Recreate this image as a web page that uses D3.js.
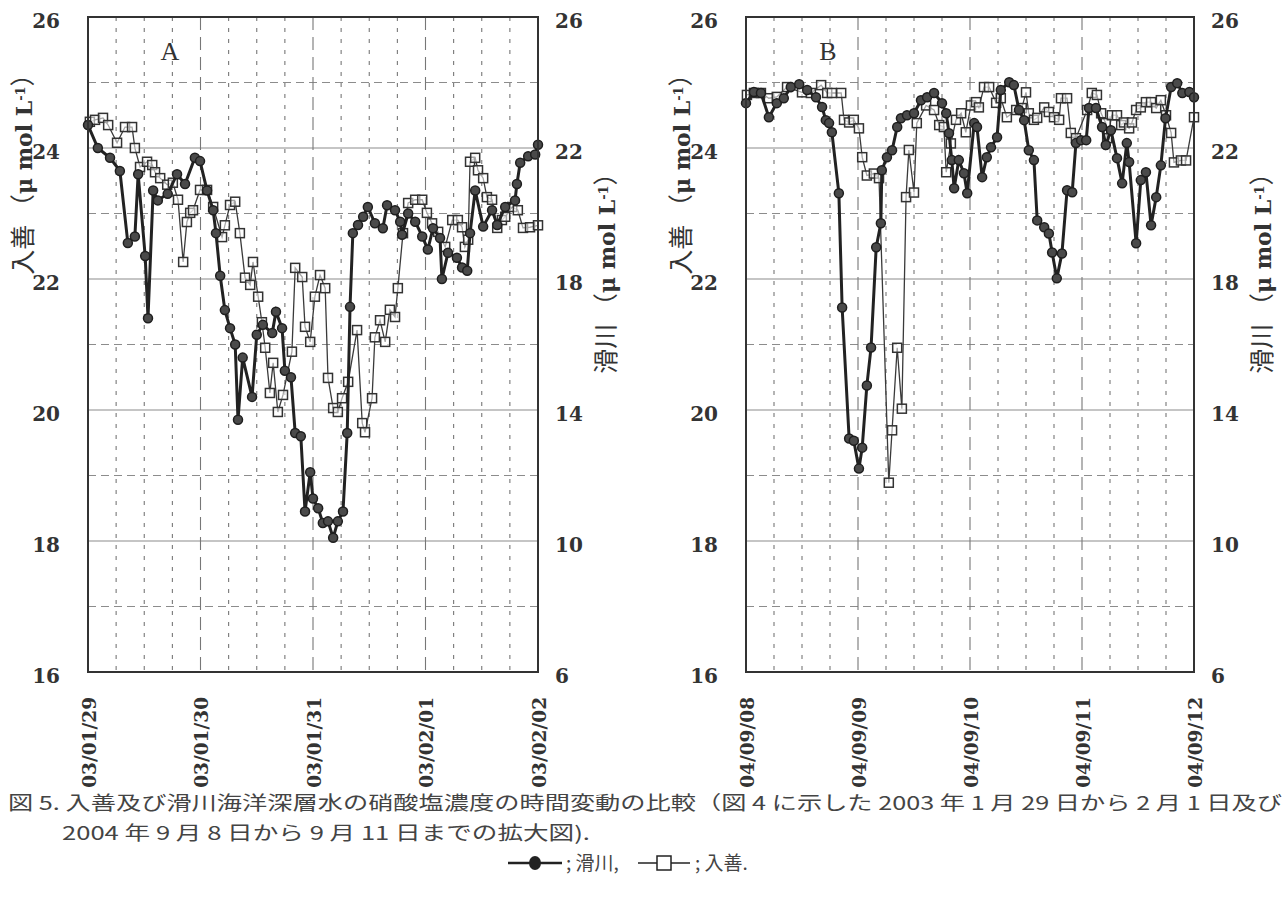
<!DOCTYPE html>
<html>
<head>
<meta charset="utf-8">
<script src="https://cdn.jsdelivr.net/npm/d3@7"></script>
<style>
  body { margin: 0; background: #fff; }
</style>
</head>
<body>
<svg id="chart" width="1285" height="899"></svg>
<script>

// [hours from first tick, nitrate umol/L]
// 入善 (open squares, left axis), 滑川 (filled circles, right axis)
const nyuzenA = [[0.4,24.40],[1.5,24.43],[3.2,24.46],[4.3,24.35],[6.2,24.08],[7.9,24.32],[9.4,24.32],[10,24.0],[11.1,23.71],[12.6,23.79],[13.7,23.74],[14.3,23.63],[15.4,23.54],[16.9,23.44],[18.1,23.47],[19.2,23.21],[20.3,22.26],[21.1,22.87],[21.8,23.01],[22.4,23.05],[23.9,23.36],[25.4,23.36],[26.7,23.10],[28.6,22.64],[29.2,22.82],[30.3,23.13],[31.4,23.18],[32.4,22.70],[33.5,22.02],[34.6,21.91],[35.2,22.26],[36.3,21.73],[37.1,21.34],[37.8,20.95],[38.8,20.26],[39.5,20.72],[40.5,19.97],[41.6,20.23],[43.5,20.89],[44.2,22.17],[45.7,22.03],[46.3,21.27],[47.4,21.04],[48.4,21.73],[49.5,22.06],[50.6,21.86],[51.2,20.49],[52.3,20.03],[53.3,19.97],[54.2,20.18],[55.5,20.43],[57.4,21.22],[58.5,19.80],[59.1,19.66],[60.6,20.18],[61.2,21.11],[62.3,21.37],[63.4,21.04],[64.4,21.53],[65.5,21.42],[66.1,21.86],[67.2,22.70],[68.3,23.16],[69.8,23.21],[71.3,23.21],[72.3,23.01],[73.4,22.85],[74.7,22.72],[76.2,22.49],[77.7,22.90],[78.9,22.90],[79.8,22.79],[80.4,22.49],[81.1,22.60],[81.5,23.79],[82.6,23.85],[83.2,23.66],[84.3,23.54],[85.1,23.25],[86.2,23.21],[87.3,22.78],[88.3,22.90],[89,22.95],[90.5,23.10],[91.7,23.05],[92.8,22.78],[94.3,22.79],[96,22.82]]

const namerikawaA = [[0,22.7],[2.1,22.0],[4.7,21.7],[6.8,21.3],[8.5,19.1],[10,19.3],[10.7,21.2],[12.2,18.7],[12.8,16.8],[13.9,20.7],[14.9,20.4],[17,20.6],[19,21.2],[20.7,20.9],[22.8,21.7],[23.9,21.6],[25.4,20.7],[26.7,20.1],[27.3,19.4],[28.2,18.1],[29.2,17.05],[30.3,16.5],[31.4,16.0],[32,13.7],[33,15.6],[35,14.4],[36,16.3],[37.3,16.6],[39.3,16.35],[40.1,17.0],[41.4,16.5],[42,15.2],[43.3,15.0],[44.2,13.3],[45.4,13.2],[46.3,10.9],[47.4,12.1],[48,11.3],[49.1,11.0],[50.1,10.55],[51.2,10.6],[52.3,10.1],[53.3,10.6],[54.4,10.9],[55.3,13.3],[55.9,17.15],[56.5,19.4],[57.6,19.65],[58.7,19.9],[59.7,20.2],[61.2,19.7],[62.9,19.55],[63.8,20.25],[65.5,20.1],[66.6,19.75],[67,19.35],[68.3,20.0],[69.8,19.75],[71.3,19.3],[72.5,18.9],[73.6,19.55],[75.1,19.25],[75.5,18.0],[76.8,18.8],[78.7,18.65],[79.8,18.35],[80.9,18.25],[81.5,19.4],[82.6,20.7],[84.3,19.6],[86.2,20.1],[87.3,19.65],[89,20.2],[91.1,20.4],[91.5,20.9],[92.2,21.55],[93.9,21.75],[95.4,21.8],[96,22.1]]

const nyuzenB = [[0.2,24.81],[1.7,24.84],[3.2,24.84],[4.9,24.76],[6.6,24.78],[8.8,24.93],[12,24.85],[13.9,24.84],[16.1,24.96],[17.4,24.84],[18.4,24.84],[20.4,24.84],[21,24.43],[22.1,24.39],[23.1,24.43],[24.2,24.30],[24.9,23.86],[25.9,23.58],[27.4,23.61],[28.5,23.54],[30.6,18.89],[31.3,19.69],[32.4,20.95],[33.4,20.02],[34.3,23.25],[34.9,23.97],[36,23.32],[36.6,24.38],[38.6,24.65],[40.3,24.58],[41.4,24.35],[42.4,24.32],[42.9,23.63],[43.9,24.07],[45,24.43],[46.1,24.53],[47.1,24.24],[48.2,24.65],[49.3,24.70],[49.9,24.62],[51,24.93],[52.1,24.93],[53.6,24.69],[54.6,24.76],[55.9,24.47],[57.9,24.58],[59.1,24.61],[60,24.85],[60.6,24.53],[61.7,24.43],[62.4,24.46],[63.9,24.62],[64.9,24.55],[66,24.47],[67.1,24.43],[67.5,24.76],[68.8,24.76],[69.6,24.23],[70.7,24.15],[73.1,24.58],[74.1,24.84],[75.2,24.81],[76.1,24.53],[77.1,24.38],[77.4,24.15],[78.4,24.50],[79.5,24.50],[80.4,24.35],[81,24.39],[82.1,24.30],[82.7,24.39],[83.6,24.58],[84.6,24.62],[85.7,24.70],[86.8,24.70],[87.9,24.61],[88.9,24.73],[90,24.50],[91.1,24.23],[91.7,23.78],[93.2,23.81],[94.3,23.81],[96,24.47]]

const namerikawaB = [[0,23.37],[1.7,23.71],[3.2,23.68],[4.9,22.94],[6.6,23.37],[8.1,23.52],[9.6,23.86],[11.4,23.95],[13.1,23.77],[15,23.55],[16.3,23.25],[17.1,22.85],[17.8,22.76],[18.4,22.48],[19.9,20.62],[20.6,17.13],[22.1,13.13],[23.1,13.06],[24.2,12.21],[24.9,12.85],[25.9,14.75],[26.8,15.91],[27.9,18.97],[28.9,19.70],[29.1,21.32],[30.2,21.72],[31.3,21.93],[32.4,22.64],[33.2,22.91],[34.5,23.0],[36,23.06],[37.5,23.46],[38.8,23.55],[40.3,23.68],[42,23.37],[42.9,23.06],[43.5,22.45],[44.1,21.63],[44.6,20.77],[45.6,21.63],[46.7,21.23],[47.4,20.62],[48.9,22.76],[49.5,22.64],[50.6,21.11],[51.6,21.72],[52.5,22.02],[53.8,22.33],[54.6,23.77],[56.4,24.01],[57.4,23.92],[58.5,23.16],[59.6,22.85],[60.6,21.93],[61.7,21.63],[62.4,19.79],[63.9,19.58],[64.9,19.39],[65.6,18.81],[66.6,18.02],[67.7,18.78],[68.8,20.71],[69.9,20.65],[70.7,22.15],[71.8,22.24],[72.9,22.24],[73.5,23.22],[75,23.22],[76.3,22.64],[77.1,22.09],[78.2,22.54],[79.5,21.69],[80.6,20.92],[81.6,22.15],[82.1,21.57],[83.6,19.09],[84.6,21.02],[85.7,21.26],[86.8,19.64],[87.9,20.50],[88.9,21.47],[89.9,22.91],[91.1,23.86],[92.4,23.98],[93.5,23.68],[95,23.71],[96,23.55]]

const daysA = ['03/01/29', '03/01/30', '03/01/31', '03/02/01', '03/02/02']
const daysB = ['04/09/08', '04/09/09', '04/09/10', '04/09/11', '04/09/12']
const dayHours = [0, 24, 48, 72, 96]
const leftTicks = [16, 18, 20, 22, 24, 26]
const rightTicks = [6, 10, 14, 18, 22, 26]
const solidGrid = [18, 20, 22, 24]
const dashGrid = [17, 19, 21, 23, 25]
const sixHours = [6, 12, 18, 30, 36, 42, 54, 60, 66, 78, 84, 90]

const plotTop = 17, plotBottom = 672
const numFont = '"DejaVu Serif", "Liberation Serif", serif'

const panels = [
  { name: 'A', x0: 88, x1: 538, days: daysA, sq: nyuzenA, ci: namerikawaA },
  { name: 'B', x0: 746, x1: 1194, days: daysB, sq: nyuzenB, ci: namerikawaB }
]

const svg = d3.select('#chart')
svg.append('rect').attr('width', 1285).attr('height', 899).attr('fill', '#fff')

const yL = d3.scaleLinear().domain([16, 26]).range([plotBottom, plotTop])
const yR = d3.scaleLinear().domain([6, 26]).range([plotBottom, plotTop])

panels.forEach(p => {

  const x = d3.scaleLinear().domain([0, 96]).range([p.x0, p.x1])
  const g = svg.append('g').attr('class', 'panel-' + p.name)

  // grid
  g.selectAll('.hsolid').data(solidGrid).join('line')
    .attr('x1', p.x0).attr('x2', p.x1)
    .attr('y1', d => yL(d)).attr('y2', d => yL(d))
    .attr('stroke', '#8c8c8c').attr('stroke-width', 1.1)

  g.selectAll('.hdash').data(dashGrid).join('line')
    .attr('x1', p.x0).attr('x2', p.x1)
    .attr('y1', d => yL(d)).attr('y2', d => yL(d))
    .attr('stroke', '#8c8c8c').attr('stroke-width', 1.1)
    .attr('stroke-dasharray', '8,5')

  g.selectAll('.vsix').data(sixHours).join('line')
    .attr('x1', d => x(d)).attr('x2', d => x(d))
    .attr('y1', plotTop).attr('y2', plotBottom)
    .attr('stroke', '#777').attr('stroke-width', 1.1)
    .attr('stroke-dasharray', '4,7')

  g.selectAll('.vday').data([24, 48, 72]).join('line')
    .attr('x1', d => x(d)).attr('x2', d => x(d))
    .attr('y1', plotTop).attr('y2', plotBottom)
    .attr('stroke', '#777').attr('stroke-width', 1.1)
    .attr('stroke-dasharray', '13,7')

  // 入善 squares
  g.append('path').datum(p.sq)
    .attr('d', d3.line().x(d => x(d[0])).y(d => yL(d[1])))
    .attr('fill', 'none').attr('stroke', '#3a3a3a').attr('stroke-width', 1.3)

  g.selectAll('.sq').data(p.sq).join('rect')
    .attr('class', 'sq')
    .attr('x', d => x(d[0]) - 4.5).attr('y', d => yL(d[1]) - 4.5)
    .attr('width', 9).attr('height', 9)
    .attr('fill', '#fff').attr('fill-opacity', 0.55)
    .attr('stroke', '#333').attr('stroke-width', 1.5)

  // 滑川 circles
  g.append('path').datum(p.ci)
    .attr('d', d3.line().x(d => x(d[0])).y(d => yR(d[1])))
    .attr('fill', 'none').attr('stroke', '#222').attr('stroke-width', 3)

  g.selectAll('.ci').data(p.ci).join('circle')
    .attr('class', 'ci')
    .attr('cx', d => x(d[0])).attr('cy', d => yR(d[1]))
    .attr('r', 4.5)
    .attr('fill', '#4a4a4a').attr('stroke', '#1e1e1e').attr('stroke-width', 1.5)

  // frame
  g.append('rect')
    .attr('x', p.x0).attr('y', plotTop)
    .attr('width', p.x1 - p.x0).attr('height', plotBottom - plotTop)
    .attr('fill', 'none').attr('stroke', '#333').attr('stroke-width', 2)

  g.append('text')
    .attr('x', p.x0 + 82).attr('y', 60)
    .attr('text-anchor', 'middle')
    .style('font-family', '"Liberation Serif", serif')
    .style('font-size', '26px')
    .attr('fill', '#333')
    .text(p.name)

  // axes
  g.append('g')
    .attr('transform', 'translate(' + p.x0 + ',0)')
    .call(d3.axisLeft(yL).tickValues(leftTicks).tickSize(0).tickPadding(28))
    .call(sel => {
      sel.select('.domain').remove()
      sel.selectAll('text')
        .attr('dy', '0.5em')
        .style('font-family', numFont).style('font-weight', 'bold')
        .style('font-size', '20px').attr('fill', '#333')
    })

  g.append('g')
    .attr('transform', 'translate(' + p.x1 + ',0)')
    .call(d3.axisRight(yR).tickValues(rightTicks).tickSize(0).tickPadding(17))
    .call(sel => {
      sel.select('.domain').remove()
      sel.selectAll('text')
        .attr('dy', '0.5em')
        .style('font-family', numFont).style('font-weight', 'bold')
        .style('font-size', '20px').attr('fill', '#333')
    })

  g.append('g')
    .attr('transform', 'translate(0,' + plotBottom + ')')
    .call(d3.axisBottom(x).tickValues(dayHours).tickFormat((d, i) => p.days[i]).tickSize(0))
    .call(sel => {
      sel.select('.domain').remove()
      sel.selectAll('text')
        .attr('transform', 'rotate(-90)')
        .attr('text-anchor', 'end')
        .attr('x', -25).attr('y', 0).attr('dy', '0.38em')
        .style('font-family', numFont).style('font-weight', 'bold')
        .style('font-size', '18.5px').attr('fill', '#333')
    })

  // axis titles
  const ylab = (cx, cy, name) => {
    const t = g.append('text')
      .attr('transform', 'translate(' + cx + ',' + cy + ') rotate(-90)')
      .attr('text-anchor', 'middle')
      .attr('dy', '0.35em')
      .style('font-family', '"DejaVu Serif", "Noto Sans CJK JP", serif')
      .style('font-weight', 'bold')
      .style('font-size', '22px')
      .attr('fill', '#333')
    t.append('tspan').style('font-family', '"Noto Sans CJK JP"').style('font-weight', 'normal').style('font-size', '25px').text(name + '  （')
    t.append('tspan').text('μ mol L')
    t.append('tspan').attr('baseline-shift', 'super').style('font-size', '13px').text('-1')
    t.append('tspan').style('font-family', '"Noto Sans CJK JP"').style('font-weight', 'normal').style('font-size', '25px').text('）')
  }
  ylab(p.x0 - 64, 168, '入善')
  ylab(p.x1 + 69, 267, '滑川')
})

// caption
const cap = svg.append('g')
  .style('font-family', '"Noto Sans CJK JP", sans-serif')
  .style('font-size', '19px')
  .attr('fill', '#444')

cap.append('text').attr('x', 8).attr('y', 810)
  .attr('textLength', 1274).attr('lengthAdjust', 'spacingAndGlyphs')
  .text('図 5.  入善及び滑川海洋深層水の硝酸塩濃度の時間変動の比較（図 4 に示した 2003 年 1 月 29 日から 2 月 1 日及び')

cap.append('text').attr('x', 62).attr('y', 840)
  .attr('textLength', 528).attr('lengthAdjust', 'spacingAndGlyphs')
  .text('2004 年 9 月 8 日から 9 月 11 日までの拡大図).')

const leg = cap.append('g').attr('transform', 'translate(0,863)')
leg.append('line').attr('x1', 508).attr('x2', 562).attr('y1', 0).attr('y2', 0)
  .attr('stroke', '#222').attr('stroke-width', 2.5)
leg.append('ellipse').attr('cx', 535).attr('cy', 0).attr('rx', 6).attr('ry', 7).attr('fill', '#222')
leg.append('text').attr('x', 566).attr('y', 7).text('; 滑川,')
leg.append('line').attr('x1', 638).attr('x2', 690).attr('y1', 0).attr('y2', 0)
  .attr('stroke', '#222').attr('stroke-width', 1.5)
leg.append('rect').attr('x', 657).attr('y', -7).attr('width', 14).attr('height', 14)
  .attr('fill', '#fff').attr('stroke', '#222').attr('stroke-width', 1.5)
leg.append('text').attr('x', 695).attr('y', 7).text('; 入善.')

</script>
</body>
</html>
